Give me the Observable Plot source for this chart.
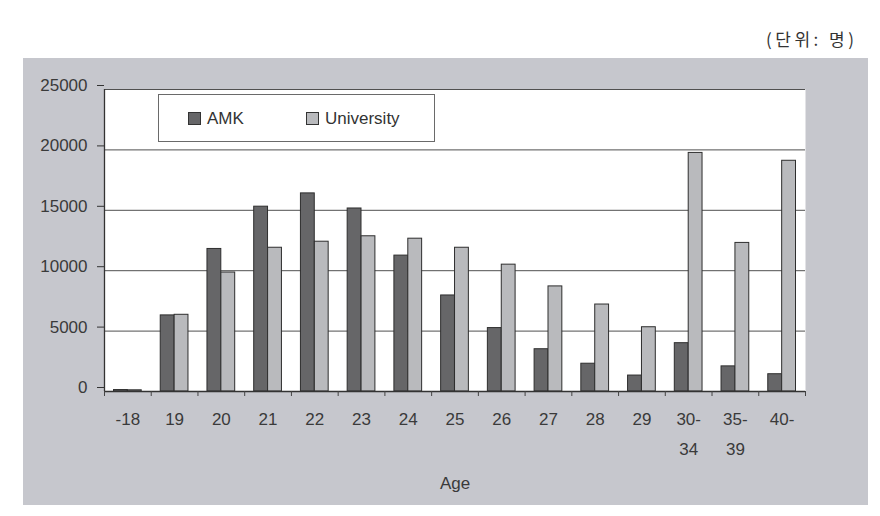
<!DOCTYPE html>
<html>
<head>
<meta charset="utf-8">
<script src="https://cdn.jsdelivr.net/npm/d3@7"></script>
<script src="https://cdn.jsdelivr.net/npm/@observablehq/plot@0.6"></script>
<style>
  html, body { margin: 0; padding: 0; background: #ffffff; }
  #wrap { position: relative; width: 880px; height: 516px; overflow: hidden; font-family: "Liberation Sans", Arial, sans-serif; }
  #unit { position: absolute; left: 766px; top: 26px; font-family: "Noto Sans CJK KR", sans-serif; font-size: 17px; color: #333; letter-spacing: 3.5px; white-space: pre; }
  #chart { position: absolute; left: 23px; top: 58px; }
  #legend { position: absolute; left: 158px; top: 94px; width: 277px; height: 48px; background: #fff; border: 1px solid #6a6a6a; box-sizing: border-box; }
  .item { position: absolute; top: 14px; font-size: 17px; color: #333; line-height: 20px; }
  .sw { position: absolute; top: 17px; width: 11px; height: 11px; border: 1px solid #333; }
</style>
</head>
<body>
<div id="wrap">
  <div id="unit"></div>
  <div id="chart"></div>
  <div id="legend"></div>
</div>
<script>
const unitLabel = "(단위: 명)";
const ages = ["-18", "19", "20", "21", "22", "23", "24", "25", "26", "27", "28", "29", "30-\n34", "35-\n39", "40-"];
const amk = [120, 6300, 11800, 15300, 16400, 15150, 11250, 7950, 5250, 3500, 2300, 1320, 4000, 2080, 1430];
const university = [100, 6350, 9850, 11900, 12400, 12850, 12650, 11900, 10500, 8700, 7200, 5320, 19750, 12300, 19100];
const seriesNames = ["AMK", "University"];
const seriesColors = ["#666668", "#b9babd"];
const yTicks = [0, 5000, 10000, 15000, 20000, 25000];
const xLabel = "Age";

const rows = ages.map((a, i) => ({age: a, amk: amk[i], university: university[i]}));

const textStyle = {fontSize: 17, fill: "#3a3a3a", style: "letter-spacing:0.6px"};

const chart = Plot.plot({
  width: 845,
  height: 447,
  marginLeft: 81,
  marginRight: 63,
  marginTop: 31,
  marginBottom: 114,
  style: {background: "#c6c7cd", fontFamily: "'Liberation Sans', Arial, sans-serif", color: "#333", overflow: "visible"},
  x: {domain: ages, padding: 0, round: false},
  y: {domain: [0, 25000]},
  marks: [
    Plot.frame({fill: "#ffffff", stroke: null}),
    Plot.gridY(yTicks.filter(d => d > 0), {stroke: "#505050", strokeOpacity: 1, strokeWidth: 1}),
    Plot.barY(rows, {x: "age", y: "amk", fill: seriesColors[0], stroke: "#2e2e2e", strokeWidth: 1, insetLeft: 9.5, insetRight: 23.4}),
    Plot.barY(rows, {x: "age", y: "university", fill: seriesColors[1], stroke: "#2e2e2e", strokeWidth: 1, insetLeft: 23.4, insetRight: 9.5}),
    Plot.ruleX([0], {x: () => ages[0], dx: -23.37, y1: 0, y2: 25000, stroke: "#333", strokeWidth: 1.3}),
    Plot.ruleY([0], {stroke: "#333", strokeWidth: 1.5}),
    Plot.axisY({ticks: yTicks, tickSize: 7, tickPadding: 10, tickFormat: d => String(d), dy: -4, label: null, stroke: "#333", ...textStyle}),
    Plot.axisX({ticks: ages, tickSize: 5, tickFormat: () => "", dx: -23.37, label: null, stroke: "#444"}),
    Plot.axisX({ticks: [ages[ages.length - 1]], tickSize: 5, tickFormat: () => "", dx: 23.37, label: null, stroke: "#444"}),
    Plot.axisX({ticks: ages, tickSize: 0, tickPadding: 12, lineHeight: 1.76, label: null, ...textStyle}),
    Plot.text([xLabel], {frameAnchor: "bottom", dy: 92, text: d => d, fontSize: 17, fill: "#3a3a3a", lineAnchor: "middle"})
  ]
});
document.getElementById("chart").appendChild(chart);
document.getElementById("unit").textContent = unitLabel;

const legend = document.getElementById("legend");
const legendPos = [[29, 48], [147, 166]];
seriesNames.forEach((name, i) => {
  const sw = document.createElement("div");
  sw.className = "sw";
  sw.style.left = legendPos[i][0] + "px";
  sw.style.background = seriesColors[i];
  legend.appendChild(sw);
  const t = document.createElement("div");
  t.className = "item";
  t.style.left = legendPos[i][1] + "px";
  t.textContent = name;
  legend.appendChild(t);
});
</script>
</body>
</html>
